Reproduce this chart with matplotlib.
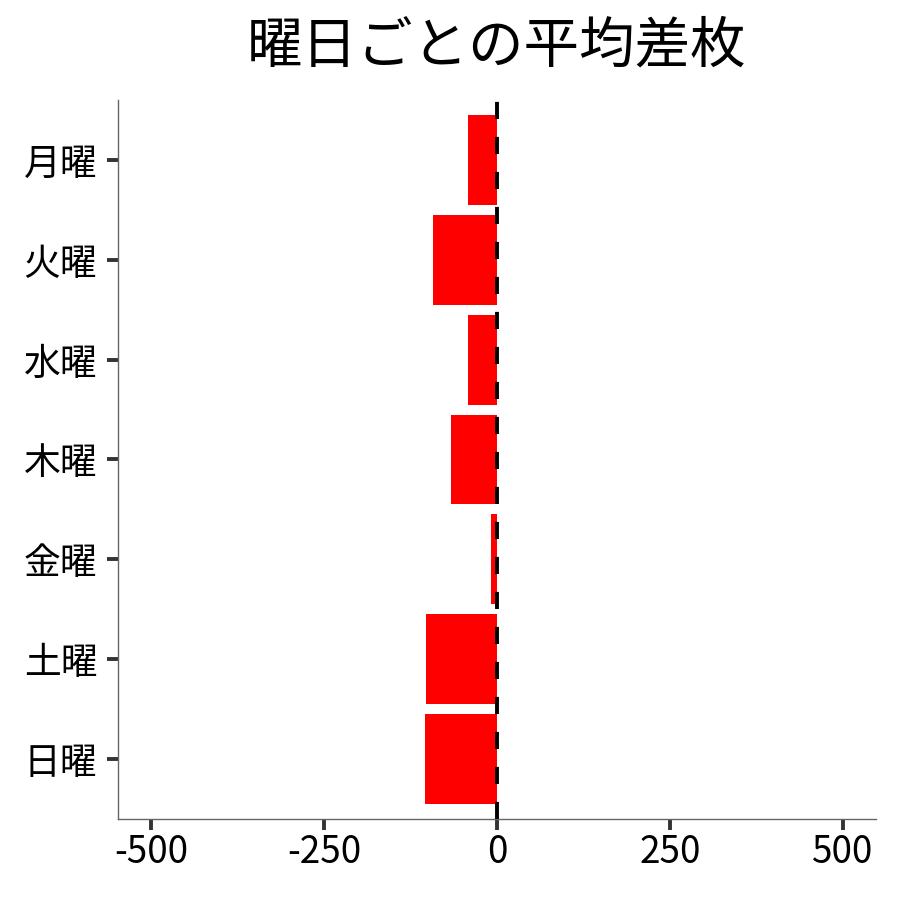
import matplotlib
matplotlib.use("Agg")
import matplotlib.pyplot as plt

plt.rcParams['font.family'] = ['Noto Sans CJK JP', 'DejaVu Sans']

days = ["月曜", "火曜", "水曜", "木曜", "金曜", "土曜", "日曜"]
avg_diff = [-42.6, -91.8, -42.6, -67.2, -9.0, -103.3, -104.8]
xticks = [-500, -250, 0, 250, 500]

fig = plt.figure(figsize=(9, 9), dpi=100)
ax = fig.add_axes([0.1311, 0.09, 0.8422, 0.7989])

ypos = list(range(len(days)))[::-1]
ax.barh(ypos, avg_diff, height=0.9, color="#ff0000", zorder=2)
ax.axvline(0, color="black", lw=2.8, linestyle=(0, (4.4, 4.6)), zorder=3)

ax.set_xlim(-548, 548)
ax.set_ylim(-0.6, len(days) - 1 + 0.6)
ax.set_xticks(xticks)
ax.set_xticklabels([str(v) for v in xticks])
ax.set_yticks(ypos)
ax.set_yticklabels(days)

for s in ["top", "right"]:
    ax.spines[s].set_visible(False)
for s in ["left", "bottom"]:
    ax.spines[s].set_color("#666666")
    ax.spines[s].set_linewidth(1.0)

ax.tick_params(axis="both", length=8, width=2.8, color="#333333",
               labelsize=26.5, labelcolor="black")
ax.tick_params(axis="y", pad=7)
ax.tick_params(axis="x", pad=2)

fig.text(0.552, 0.948, "曜日ごとの平均差枚", fontsize=40, ha="center", va="center")

fig.savefig("out.png", dpi=100)
